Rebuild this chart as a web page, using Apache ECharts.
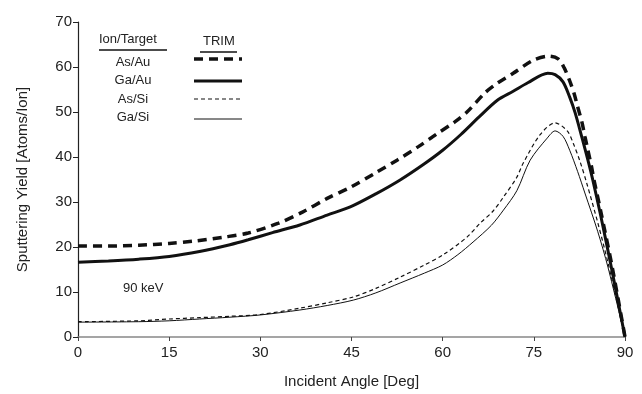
<!DOCTYPE html>
<html><head><meta charset="utf-8">
<script src="https://cdn.jsdelivr.net/npm/echarts@6/dist/echarts.min.js"></script>
<style>html,body{margin:0;padding:0;background:#fff}#c{width:642px;height:394px}</style>
</head><body><div id="c"></div>
<script>
var xTicks = [0, 15, 30, 45, 60, 75, 90];
var yTicks = [0, 10, 20, 30, 40, 50, 60, 70];
var seriesNames = ['As/Au', 'Ga/Au', 'As/Si', 'Ga/Si'];
var asAu = [[0,20.2],[5,20.2],[10,20.4],[15,20.8],[19,21.3],[24,22.2],[28,23.1],[33,25.3],[37,27.8],[41,30.8],[45,33.4],[49,36.5],[52.5,39.3],[56,42.3],[59,45.1],[62,47.8],[64,50],[67,54.3],[69,56.4],[71.6,58.6],[74.9,61.5],[77.5,62.4],[79,61.8],[80,59.8],[80.9,56.9],[81.6,54.2],[82.2,51.2],[82.9,47.8],[83.4,44.6],[83.9,41.5],[84.5,37.8],[84.9,34.9],[86,28],[87.9,15.5],[90,0]];
var gaAu = [[0,16.6],[5,16.9],[10,17.3],[15,17.9],[20,19],[25,20.5],[28,21.6],[32,23.2],[36.5,24.9],[41,27.1],[44.8,28.9],[49,31.8],[53,34.9],[57,38.5],[60,41.5],[63,45],[66,48.9],[69,52.6],[71.6,54.6],[74,56.5],[77.3,58.6],[78.5,58.3],[79.8,56.7],[80.9,53.3],[81.8,49.8],[82.9,44.4],[83.9,39.3],[84.7,34.9],[86,27],[87.9,14.5],[90,0]];
var asSi = [[0,3.4],[10,3.6],[15,4],[20,4.3],[25,4.6],[30,5],[36.5,6.4],[41,7.6],[45.3,8.9],[49,10.8],[53,13.3],[57,16],[60,18.2],[64,22.2],[66.1,25.2],[68.3,28],[70,31.1],[72.2,35.5],[73.2,38.5],[76,44.9],[78.5,47.6],[80.5,45.8],[81.5,43],[82.6,39],[83.7,34.2],[85.5,25.5],[87.2,16.5],[90,0]];
var gaSi = [[0,3.3],[10,3.4],[15,3.6],[20,4],[25,4.4],[30,4.9],[36.5,6],[41,7],[45.3,8.2],[49,9.8],[53,12],[57,14.2],[60,16],[62.5,18.3],[65,21.1],[68,24.8],[70,28.2],[72.2,32.5],[74.4,39.3],[77.2,44.2],[78.5,45.8],[79.8,44.6],[80.9,41.5],[82.2,36.8],[83.4,32],[85.5,23.5],[87.2,15.5],[90,0]];

var F = 'Liberation Sans, Arial, Helvetica, sans-serif';
var chart = echarts.init(document.getElementById('c'));
var styles = [
  {width: 3.5, type: [9, 6]},
  {width: 3, type: 'solid'},
  {width: 1.2, type: [4, 3]},
  {width: 1, type: 'solid'}
];
var datas = [asAu, gaAu, asSi, gaSi];
var series = datas.map(function (d, i) {
  return {
    name: seriesNames[i], type: 'line', data: d, showSymbol: false, smooth: 0.3,
    lineStyle: {color: '#111', width: styles[i].width, type: styles[i].type},
    animation: false
  };
});
var legendRowsY = [62, 80, 99, 117];
var legendLineY = [59, 81, 99, 119];
var graphics = [
  {type: 'text', left: 99, top: 33, style: {text: 'Ion/Target', font: '13px ' + F, fill: '#222'}},
  {type: 'line', shape: {x1: 99, y1: 50, x2: 167, y2: 50}, style: {stroke: '#111', lineWidth: 1.5}},
  {type: 'text', left: 203, top: 35, style: {text: 'TRIM', font: '13px ' + F, fill: '#222'}},
  {type: 'line', shape: {x1: 200, y1: 52, x2: 237, y2: 52}, style: {stroke: '#111', lineWidth: 1.5}},
  {type: 'text', left: 123, top: 282, style: {text: '90 keV', font: '13px ' + F, fill: '#222'}}
];
seriesNames.forEach(function (n, i) {
  graphics.push({type: 'text', x: 133, y: legendRowsY[i], style: {text: n, font: '13px ' + F, fill: '#222', align: 'center', verticalAlign: 'middle'}});
  graphics.push({type: 'line', shape: {x1: 194, y1: legendLineY[i], x2: 242, y2: legendLineY[i]},
    style: {stroke: '#111', lineWidth: styles[i].width, lineDash: styles[i].type === 'solid' ? null : styles[i].type}});
});
chart.setOption({
  backgroundColor: '#fff',
  animation: false,
  grid: {left: 78, right: 17, top: 22, bottom: 57, containLabel: false},
  xAxis: {
    type: 'value', min: xTicks[0], max: xTicks[xTicks.length - 1], interval: 15,
    name: 'Incident Angle [Deg]', nameLocation: 'middle', nameGap: 37,
    nameTextStyle: {fontFamily: F, fontSize: 15, color: '#222'},
    axisLine: {lineStyle: {color: '#888', width: 1.5}},
    axisTick: {show: true, length: 4, lineStyle: {color: '#444', width: 1}},
    axisLabel: {fontFamily: F, fontSize: 15, color: '#222', margin: 8},
    splitLine: {show: false}
  },
  yAxis: {
    type: 'value', min: yTicks[0], max: yTicks[yTicks.length - 1], interval: 10,
    name: 'Sputtering Yield [Atoms/Ion]', nameLocation: 'middle', nameGap: 48,
    nameTextStyle: {fontFamily: F, fontSize: 15, color: '#222'},
    axisLine: {show: true, lineStyle: {color: '#222', width: 1.2}},
    axisTick: {show: true, length: 5, lineStyle: {color: '#222', width: 1}},
    axisLabel: {fontFamily: F, fontSize: 15, color: '#222', margin: 6},
    splitLine: {show: false}
  },
  graphic: graphics,
  series: series
});
</script></body></html>
